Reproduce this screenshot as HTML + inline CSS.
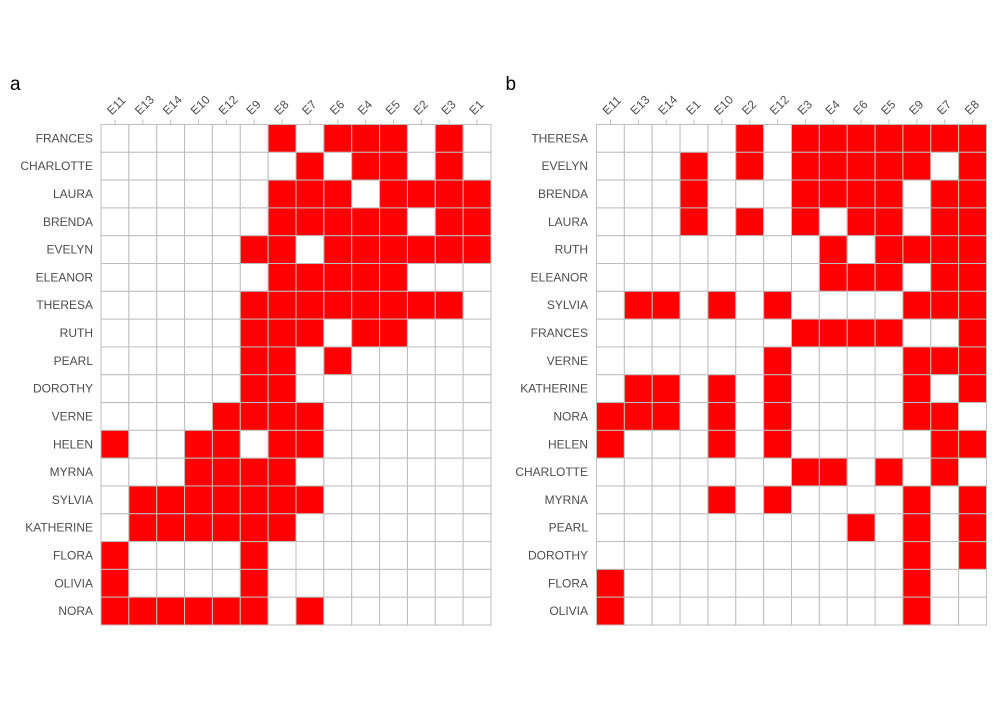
<!DOCTYPE html>
<html><head><meta charset="utf-8"><style>
body{margin:0;background:#fff;font-family:"Liberation Sans",Arial,sans-serif;}
svg text{font-family:"Liberation Sans",Arial,sans-serif;}
</style></head><body>
<svg id="chart" width="1000" height="700" xmlns="http://www.w3.org/2000/svg"></svg>
<script>
const membership = {
  THERESA:["E2","E3","E4","E5","E6","E7","E8","E9"],
  EVELYN:["E1","E2","E3","E4","E5","E6","E8","E9"],
  BRENDA:["E1","E3","E4","E5","E6","E7","E8"],
  LAURA:["E1","E2","E3","E5","E6","E7","E8"],
  RUTH:["E4","E5","E7","E8","E9"],
  ELEANOR:["E4","E5","E6","E7","E8"],
  SYLVIA:["E7","E8","E9","E10","E12","E13","E14"],
  FRANCES:["E3","E4","E5","E6","E8"],
  VERNE:["E7","E8","E9","E12"],
  KATHERINE:["E8","E9","E10","E12","E13","E14"],
  NORA:["E7","E9","E10","E11","E12","E13","E14"],
  HELEN:["E7","E8","E10","E11","E12"],
  CHARLOTTE:["E3","E4","E5","E7"],
  MYRNA:["E8","E9","E10","E12"],
  PEARL:["E6","E8","E9"],
  DOROTHY:["E8","E9"],
  FLORA:["E9","E11"],
  OLIVIA:["E9","E11"]
};
const rowsA = ["FRANCES","CHARLOTTE","LAURA","BRENDA","EVELYN","ELEANOR","THERESA","RUTH","PEARL","DOROTHY","VERNE","HELEN","MYRNA","SYLVIA","KATHERINE","FLORA","OLIVIA","NORA"];
const colsA = ["E11","E13","E14","E10","E12","E9","E8","E7","E6","E4","E5","E2","E3","E1"];
const rowsB = ["THERESA","EVELYN","BRENDA","LAURA","RUTH","ELEANOR","SYLVIA","FRANCES","VERNE","KATHERINE","NORA","HELEN","CHARLOTTE","MYRNA","PEARL","DOROTHY","FLORA","OLIVIA"];
const colsB = ["E11","E13","E14","E1","E10","E2","E12","E3","E4","E6","E5","E9","E7","E8"];

const svg = document.getElementById('chart');
const NS = "http://www.w3.org/2000/svg";
function mk(tag, attrs, parent){
  const e = document.createElementNS(NS, tag);
  for (const k in attrs) e.setAttribute(k, attrs[k]);
  (parent||svg).appendChild(e);
  return e;
}
function panel(letter, rows, cols, left, right, labelX){
  const top = 124.5, bottom = 625;
  const g = mk('g', {});
  
  
  const cw = (right-left)/cols.length, rh = (bottom-top)/rows.length;
  const xs = c => left + cols.indexOf(c)*cw;
  const ys = r => top + rows.indexOf(r)*rh;
  const t = mk('text', {x: left-91, y: 90, 'font-size': 19, fill: '#000'}, g);
  t.textContent = letter;
  
  
  rows.forEach(r => {
    cols.forEach(c => {
      const on = membership[r].includes(c);
      const rect = mk('rect', {x: xs(c), y: ys(r), width: cw, height: rh, fill: on ? '#ff0000' : '#ffffff', stroke: '#bebebe', 'stroke-width': 1}, g);
      
      
    });
    const lt = mk('text', {x: labelX, y: ys(r)+rh/2+4, 'font-size': 12, fill: '#4d4d4d', 'text-anchor': 'end'}, g);
    lt.textContent = r;
    
    
  });
  cols.forEach(c => {
    const cx = xs(c) + cw/2;
    mk('line', {x1: cx, x2: cx, y1: top-5, y2: top, stroke: '#bebebe'}, g);
    const ct = mk('text', {x: 0, y: 0, 'font-size': 12, fill: '#4d4d4d', transform: `translate(${cx-3},${top-9}) rotate(-45)`}, g);
    ct.textContent = c;
    
    
  });
}
panel('a', rowsA, colsA, 101, 491, 93);
panel('b', rowsB, colsB, 596.5, 986.5, 588);
</script>
</body></html>
